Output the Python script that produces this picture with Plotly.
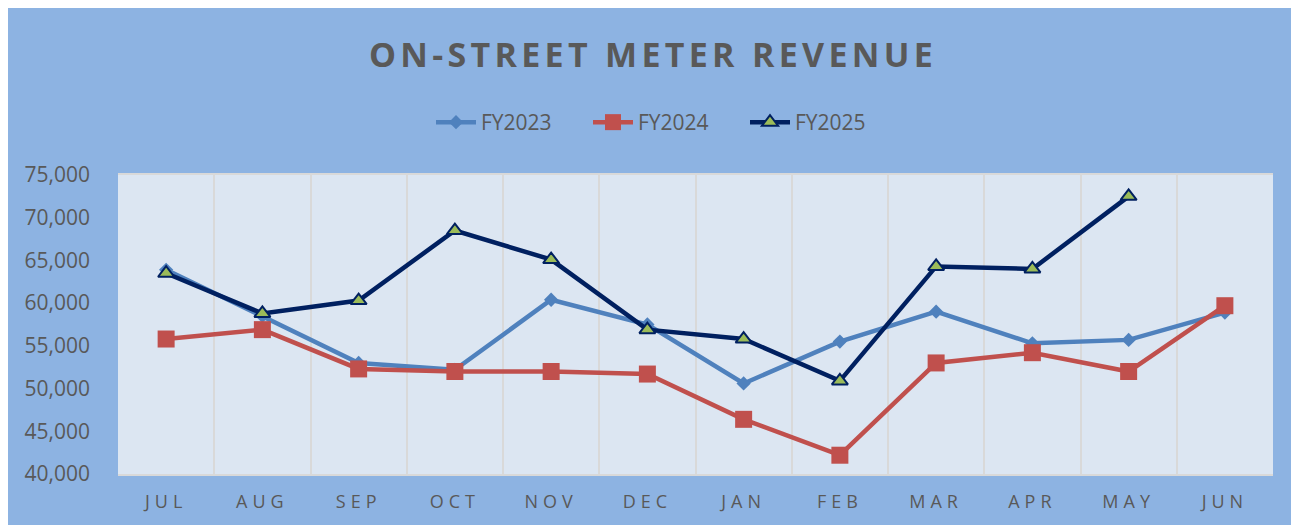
import plotly.graph_objects as go

months = ["JUL", "AUG", "SEP", "OCT", "NOV", "DEC", "JAN", "FEB", "MAR", "APR", "MAY", "JUN"]
fy2023 = [63900, 58500, 53000, 52200, 60400, 57500, 50600, 55500, 59000, 55300, 55700, 58900]
fy2024 = [55800, 56900, 52300, 52000, 52000, 51700, 46400, 42200, 53000, 54200, 52000, 59700]
fy2025 = [63500, 58800, 60300, 68500, 65100, 56900, 55800, 50900, 64300, 64000, 72500, None]

# page has an 8px body margin; figure is drawn from (8, 8)
W, H = 1291, 517
ML, MR, MT, MB = 110, 26, 167, 51

TXT = "#595959"
FONT = "Open Sans"

fig = go.Figure()
fig.add_trace(go.Scatter(
    x=months, y=fy2023, name="FY2023", mode="lines+markers",
    line=dict(color="#4F81BD", width=4.5),
    marker=dict(symbol="diamond", size=11, color="#4F81BD"),
))
fig.add_trace(go.Scatter(
    x=months, y=fy2024, name="FY2024", mode="lines+markers",
    line=dict(color="#C0504D", width=4.5),
    marker=dict(symbol="square", size=17, color="#C0504D"),
))
fig.add_trace(go.Scatter(
    x=months, y=fy2025, name="FY2025", mode="lines+markers",
    line=dict(color="#002060", width=4.5),
    marker=dict(symbol="triangle-up", size=14, color="#9BBB59",
                line=dict(color="#002060", width=2)),
))

tick_text = ['<span style="letter-spacing:5px">%s</span>' % m for m in months]

fig.update_layout(
    width=W, height=H,
    margin=dict(l=ML, r=MR, t=MT, b=MB),
    paper_bgcolor="#8DB3E2",
    plot_bgcolor="#DCE6F2",
    font=dict(family=FONT, color=TXT),
    title=dict(
        text='<span style="letter-spacing:4.3px"><b>ON-STREET METER REVENUE</b></span>',
        font=dict(family=FONT, size=34, color=TXT),
        x=645 / W, xanchor="center", xref="container",
        y=1 - 47 / H, yanchor="middle", yref="container",
    ),
    legend=dict(
        orientation="h", x=(431 - 8) / W, xanchor="left", xref="container",
        y=1 - 114.5 / H, yanchor="middle", yref="container",
        font=dict(family=FONT, size=21, color=TXT),
        bgcolor="rgba(0,0,0,0)", itemwidth=40,
        entrywidth=102, entrywidthmode="pixels",
    ),
    xaxis=dict(
        type="category", categoryorder="array", categoryarray=months,
        range=[-0.5, 11.5],
        tickmode="array", tickvals=months, ticktext=tick_text,
        tickson="boundaries", showgrid=True, gridcolor="#D9D9D9", gridwidth=2,
        ticks="", showline=True, linecolor="#D9D9D9", linewidth=2, mirror=True,
        tickfont=dict(family=FONT, size=18, color=TXT),
        ticklabelstandoff=10, fixedrange=True,
    ),
    yaxis=dict(
        range=[40000, 75000], dtick=5000, tickformat=",",
        showgrid=False, zeroline=False, ticks="",
        tickfont=dict(family=FONT, size=21, color=TXT),
        ticklabelstandoff=27,
    ),
    showlegend=True,
)

fig.write_html("out.html")
